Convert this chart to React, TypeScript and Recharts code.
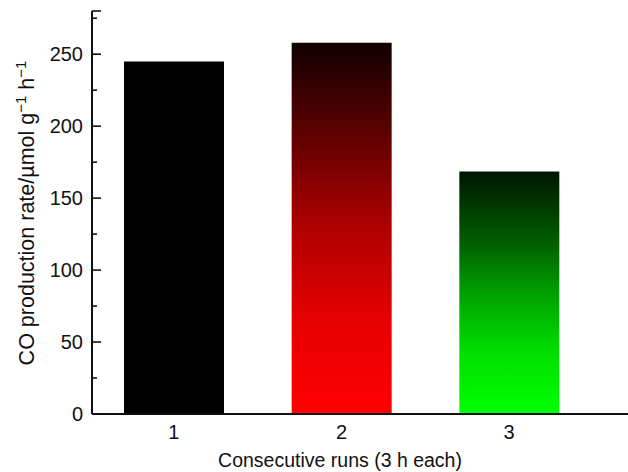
import { BarChart, Bar, XAxis, YAxis, Cell } from "recharts";

const runs = ["1", "2", "3"];
const rates = [245, 258, 168.5];
const yTicks = [0, 25, 50, 75, 100, 125, 150, 175, 200, 225, 250, 275, 280];
const yLabels = [0, 50, 100, 150, 200, 250];
const fills = ["url(#gBlack)", "url(#gRed)", "url(#gGreen)"];

const data = runs.map((run, i) => ({ run, rate: rates[i] }));

const FONT = "'Liberation Sans', Arial, sans-serif";
const INK = "#111";

function YTick({ x, y, payload }: { x?: number; y?: number; payload?: { value: number } }) {
  const v = payload!.value;
  const major = yLabels.includes(v) || v === 280;
  return (
    <g>
      <line x1={x} x2={x! + (major ? 9 : 5)} y1={y} y2={y} stroke={INK} strokeWidth={1.6} />
      {yLabels.includes(v) && (
        <text x={x! - 9} y={y} dy={7} textAnchor="end" fontSize={20} fontFamily={FONT} fill={INK}>
          {v}
        </text>
      )}
    </g>
  );
}

function YTitle() {
  return (
    <text
      transform="translate(34, 213) rotate(-90)"
      textAnchor="middle"
      fontSize={21.5}
      fontFamily={FONT}
      fill={INK}
    >
      CO production rate/µmol g
      <tspan fontSize={15} dy={-8}>−1</tspan>
      <tspan dy={8}> h</tspan>
      <tspan fontSize={15} dy={-8}>−1</tspan>
    </text>
  );
}

function XTitle() {
  return (
    <text x={340} y={467} textAnchor="middle" fontSize={19.5} fontFamily={FONT} fill={INK}>
      Consecutive runs (3 h each)
    </text>
  );
}

export default function App() {
  return (
    <div style={{ position: "absolute", left: 0, top: 0, width: 628, height: 472, background: "#fff" }}>
      <BarChart width={628} height={472} data={data} margin={{ top: 11, right: 0, left: 0, bottom: 0 }}>
        <defs>
          <linearGradient id="gBlack" x1="0" y1="0" x2="0" y2="1">
            <stop offset="0%" stopColor="#000000" />
            <stop offset="100%" stopColor="#000000" />
          </linearGradient>
          <linearGradient id="gRed" x1="0" y1="0" x2="0" y2="1">
            <stop offset="0%" stopColor="#100000" />
            <stop offset="25%" stopColor="#600000" />
            <stop offset="50%" stopColor="#b00000" />
            <stop offset="75%" stopColor="#e60000" />
            <stop offset="100%" stopColor="#ff0000" />
          </linearGradient>
          <linearGradient id="gGreen" x1="0" y1="0" x2="0" y2="1">
            <stop offset="0%" stopColor="#001500" />
            <stop offset="30%" stopColor="#006000" />
            <stop offset="50%" stopColor="#00a000" />
            <stop offset="75%" stopColor="#00e000" />
            <stop offset="100%" stopColor="#00ff00" />
          </linearGradient>
        </defs>
        <XAxis
          dataKey="run"
          height={58}
          padding={{ left: -2, right: 35 }}
          tickLine={false}
          tickSize={0}
          tickMargin={11}
          axisLine={{ stroke: INK, strokeWidth: 2 }}
          tick={{ fontSize: 20, fontFamily: FONT, fill: INK }}
          label={{ content: () => <XTitle /> }}
        />
        <YAxis
          width={92}
          domain={[0, 280]}
          ticks={yTicks}
          interval={0}
          tickLine={false}
          tickSize={0}
          tickMargin={0}
          axisLine={{ stroke: INK, strokeWidth: 2 }}
          tick={<YTick />}
          label={{ content: () => <YTitle /> }}
        />
        <Bar dataKey="rate" barSize={100} isAnimationActive={false}>
          {data.map((d, i) => (
            <Cell key={d.run} fill={fills[i]} />
          ))}
        </Bar>
      </BarChart>
    </div>
  );
}
